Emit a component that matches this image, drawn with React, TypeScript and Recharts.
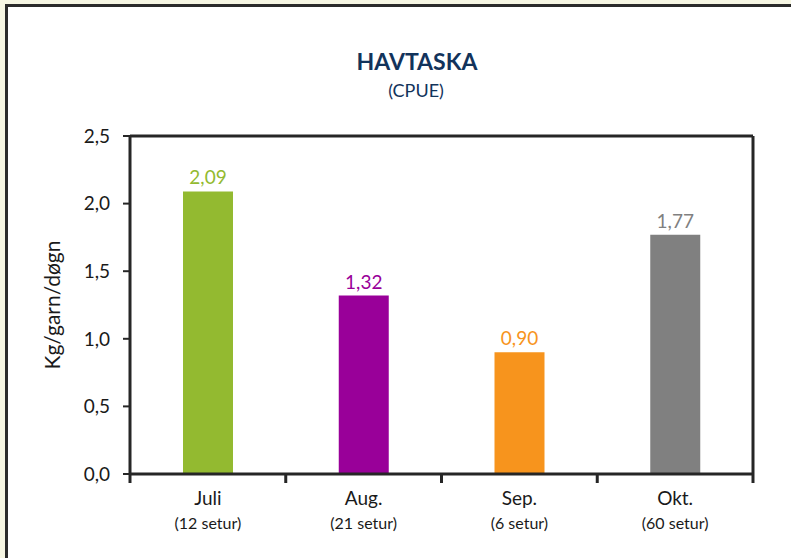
import React from "react";
import { BarChart, Bar, XAxis, YAxis, Cell, LabelList, ReferenceLine } from "recharts";

const months = ["Juli", "Aug.", "Sep.", "Okt."];
const trips = ["(12 setur)", "(21 setur)", "(6 setur)", "(60 setur)"];
const cpue = [2.09, 1.32, 0.9, 1.77];
const barColors = ["#93ba30", "#990099", "#f7941d", "#808080"];
const yTicks = [0, 0.5, 1, 1.5, 2, 2.5];

const data = months.map((m, i) => ({ month: m, trips: trips[i], value: cpue[i] }));

const FONT = "Lato, 'Open Sans', sans-serif";
const AXIS = "#262626";

const fmt = (v: number) => v.toFixed(2).replace(".", ",");

const XTick = (props: any) => {
  const { x, y, payload, index, width, visibleTicksCount } = props;
  const half =
    payload && typeof payload.offset === "number" && payload.offset > 0
      ? payload.offset
      : width / (visibleTicksCount || months.length) / 2;
  const ay = y - 8;
  const isLast = index === months.length - 1;
  return (
    <g>
      <line x1={x - half} x2={x - half} y1={ay} y2={ay + 9} stroke={AXIS} strokeWidth={3} />
      {isLast && <line x1={x + half} x2={x + half} y1={ay} y2={ay + 9} stroke={AXIS} strokeWidth={3} />}
      <text x={x} y={ay + 31} textAnchor="middle" fontFamily={FONT} fontSize={19} fill="#1a1a1a">
        {months[index]}
      </text>
      <text x={x} y={ay + 55} textAnchor="middle" fontFamily={FONT} fontSize={16} fill="#1a1a1a">
        {trips[index]}
      </text>
    </g>
  );
};

const ValueLabel = (props: any) => {
  const { x, y, width, index, value } = props;
  return (
    <text x={x + width / 2} y={y - 7} textAnchor="middle" fontFamily={FONT} fontSize={19} fill={barColors[index]}>
      {fmt(value)}
    </text>
  );
};

export default function App() {
  return (
    <div style={{ position: "fixed", left: 0, top: 0, width: 791, height: 558, background: "#f6f6e3", overflow: "hidden" }}>
      <div
        style={{
          position: "absolute",
          left: 5,
          top: 4,
          width: 820,
          height: 600,
          border: "3px solid #2b2b2b",
          background: "#ffffff",
          boxSizing: "border-box",
        }}
      />
      <div
        style={{
          position: "absolute",
          left: 0,
          width: 834,
          top: 47,
          textAlign: "center",
          fontFamily: FONT,
          fontWeight: 700,
          fontSize: 23,
          color: "#12335b",
        }}
      >
        HAVTASKA
      </div>
      <div
        style={{
          position: "absolute",
          left: 0,
          width: 832,
          top: 79,
          textAlign: "center",
          fontFamily: FONT,
          fontSize: 18,
          color: "#12335b",
        }}
      >
        (CPUE)
      </div>
      <div style={{ position: "absolute", left: 0, top: 0 }}>
        <BarChart width={791} height={558} data={data} margin={{ top: 136, right: 38, bottom: 24, left: 40 }}>
          <XAxis
            dataKey="month"
            interval={0}
            height={60}
            axisLine={{ stroke: AXIS, strokeWidth: 3 }}
            tickLine={false}
            tick={<XTick />}
          />
          <YAxis
            domain={[0, 2.5]}
            ticks={yTicks}
            width={90}
            interval={0}
            tickFormatter={(v: number) => v.toFixed(1).replace(".", ",")}
            tick={{ fontFamily: FONT, fontSize: 19, fill: "#1a1a1a" }}
            tickSize={7}
            tickMargin={13}
            axisLine={{ stroke: AXIS, strokeWidth: 3 }}
            tickLine={{ stroke: AXIS, strokeWidth: 2 }}
            label={{
              value: "Kg/garn/døgn",
              angle: -90,
              position: "insideLeft",
              offset: 13,
              style: { fontFamily: FONT, fontSize: 21, fill: "#1a1a1a", textAnchor: "middle" },
            }}
          />
          <ReferenceLine y={2.5} stroke={AXIS} strokeWidth={3} ifOverflow="visible" />
          <ReferenceLine x="Okt." position="end" stroke={AXIS} strokeWidth={3} ifOverflow="visible" />
          <Bar dataKey="value" barSize={50} isAnimationActive={false}>
            {data.map((d, i) => (
              <Cell key={d.month} fill={barColors[i]} />
            ))}
            <LabelList dataKey="value" content={<ValueLabel />} />
          </Bar>
        </BarChart>
      </div>
    </div>
  );
}
